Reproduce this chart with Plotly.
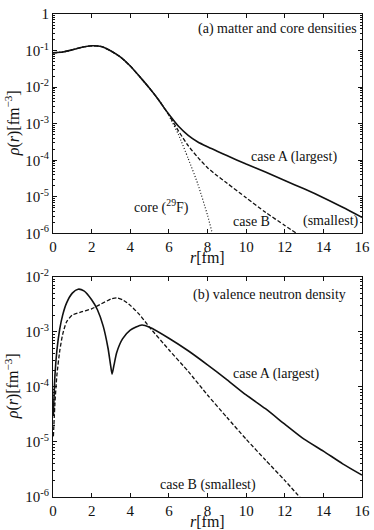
import plotly.graph_objects as go
from plotly.subplots import make_subplots

# ---------------------------------------------------------------
# (a) matter and core densities  [fm^-3]
# ---------------------------------------------------------------
# shared inner part of all three curves
r_common = [0, 0.5, 1, 1.5, 2, 2.5, 3, 3.5, 4, 4.5, 5, 5.5, 5.8]
rho_common = [0.0871, 0.0912, 0.105, 0.123, 0.135, 0.129, 0.0977, 0.0661,
              0.0380, 0.0191, 0.00933, 0.00427, 0.00251]

r_core_tail = [6, 6.5, 7, 7.5, 8, 8.3]
rho_core_tail = [1.66e-3, 5.0e-4, 1.12e-4, 2.24e-5, 3.16e-6, 7.9e-7]

r_caseB_tail = [6, 6.5, 7, 7.5, 8, 8.5, 9, 10, 11, 12, 12.85]
rho_caseB_tail = [1.74e-3, 6.3e-4, 2.51e-4, 1.20e-4, 6.3e-5, 3.8e-5, 2.4e-5,
                  9.5e-6, 3.8e-6, 1.66e-6, 8.3e-7]

r_caseA_tail = [6, 6.5, 7, 7.5, 8, 8.5, 9, 10, 11, 12, 13, 14, 15, 16]
rho_caseA_tail = [1.82e-3, 8.5e-4, 4.8e-4, 3.16e-4, 2.34e-4, 1.78e-4, 1.35e-4,
                  7.9e-5, 4.8e-5, 2.8e-5, 1.66e-5, 9.5e-6, 5.2e-6, 2.75e-6]

# ---------------------------------------------------------------
# (b) valence neutron density  [fm^-3]
# ---------------------------------------------------------------
r_valA = [0.02, 0.1, 0.2, 0.35, 0.5, 0.7, 1.0, 1.3, 1.6, 2.0, 2.3, 2.6, 2.85,
          2.98, 3.06, 3.16, 3.3, 3.6, 4.0, 4.6, 5.0, 6, 7, 8, 9, 10, 11, 12,
          13, 14, 15, 16]
rho_valA = [3.0e-5, 1.6e-4, 4.5e-4, 1.12e-3, 2.0e-3, 3.3e-3, 5.0e-3, 5.9e-3,
            5.5e-3, 3.8e-3, 2.5e-3, 1.26e-3, 5.0e-4, 2.5e-4, 1.7e-4, 2.5e-4,
            4.2e-4, 7.4e-4, 1.07e-3, 1.32e-3, 1.2e-3, 7.6e-4, 4.5e-4, 2.5e-4,
            1.35e-4, 7.1e-5, 4.0e-5, 2.1e-5, 1.12e-5, 6.8e-6, 4.0e-6, 2.5e-6]

r_valB = [0.02, 0.1, 0.2, 0.35, 0.5, 0.7, 1.0, 1.5, 2.0, 2.5, 3.0, 3.3, 3.6,
          4.0, 4.5, 5.0, 6, 7, 8, 9, 10, 11, 12, 12.85]
rho_valB = [1.26e-5, 5.0e-5, 1.6e-4, 4.5e-4, 8.9e-4, 1.5e-3, 2.0e-3, 2.3e-3,
            2.6e-3, 3.2e-3, 3.9e-3, 4.1e-3, 3.8e-3, 3.0e-3, 2.0e-3, 1.2e-3,
            4.7e-4, 1.9e-4, 7.1e-5, 2.8e-5, 1.12e-5, 4.7e-6, 2.0e-6, 9.3e-7]

x_ticks = [0, 2, 4, 6, 8, 10, 12, 14, 16]
y_top_exps = [0, -1, -2, -3, -4, -5, -6]
y_bot_exps = [-2, -3, -4, -5, -6]

FONT = "Liberation Serif"
INK = "#111"

fig = make_subplots(rows=2, cols=1)

line_solid = dict(color=INK, width=1.6, shape="spline", smoothing=0.6)
line_dash = dict(color=INK, width=1.3, dash="4px,2px", shape="spline", smoothing=0.6)
line_dot = dict(color=INK, width=1.2, dash="1px,2px", shape="spline", smoothing=0.6)

fig.add_trace(go.Scatter(x=r_common + r_core_tail, y=rho_common + rho_core_tail,
                         mode="lines", line=line_dot, showlegend=False), row=1, col=1)
fig.add_trace(go.Scatter(x=r_common + r_caseB_tail, y=rho_common + rho_caseB_tail,
                         mode="lines", line=line_dash, showlegend=False), row=1, col=1)
fig.add_trace(go.Scatter(x=r_common + r_caseA_tail, y=rho_common + rho_caseA_tail,
                         mode="lines", line=line_solid, showlegend=False), row=1, col=1)

fig.add_trace(go.Scatter(x=r_valB, y=rho_valB, mode="lines", line=line_dash,
                         showlegend=False), row=2, col=1)
fig.add_trace(go.Scatter(x=r_valA, y=rho_valA, mode="lines", line=line_solid,
                         showlegend=False), row=2, col=1)


def exp_label(e):
    return "1" if e == 0 else "10<sup>%d</sup>" % e


def minor_vals(exps):
    lo, hi = min(exps), max(exps)
    return [m * 10.0 ** e for e in range(lo, hi) for m in range(2, 10)]


axis_common = dict(showline=True, linecolor=INK, linewidth=1, mirror="ticks",
                   ticks="inside", ticklen=4, tickcolor=INK, showgrid=False,
                   zeroline=False, tickfont=dict(family=FONT, size=15, color=INK))

for i in (1, 2):
    fig.update_xaxes(range=[0, 16], tickvals=x_ticks, row=i, col=1, **axis_common)

fig.update_yaxes(type="log", range=[-6, 0],
                 tickvals=[10.0 ** e for e in y_top_exps],
                 ticktext=[exp_label(e) for e in y_top_exps],
                 minor=dict(ticks="inside", ticklen=2, tickcolor=INK,
                            tickmode="array", tickvals=minor_vals(y_top_exps)),
                 row=1, col=1, **axis_common)
fig.update_yaxes(type="log", range=[-6, -2],
                 tickvals=[10.0 ** e for e in y_bot_exps],
                 ticktext=[exp_label(e) for e in y_bot_exps],
                 minor=dict(ticks="inside", ticklen=2, tickcolor=INK,
                            tickmode="array", tickvals=minor_vals(y_bot_exps)),
                 row=2, col=1, **axis_common)

fig.update_layout(
    width=374, height=530,
    margin=dict(l=53, r=9, t=4, b=33),
    paper_bgcolor="white", plot_bgcolor="white",
    font=dict(family=FONT, size=14, color=INK),
    xaxis=dict(domain=[0, 1]), xaxis2=dict(domain=[0, 1]),
    yaxis=dict(domain=[0.5456, 1.0]), yaxis2=dict(domain=[0.0, 0.4564]),
)

txt = dict(showarrow=False, font=dict(family=FONT, size=14, color=INK))
big = dict(showarrow=False, font=dict(family=FONT, size=16, color=INK))
ylabel = "<i>ρ</i>(<i>r</i>)[fm<sup>−3</sup>]"
xlabel = "<i>r</i>[fm]"
annotations = [
    # panel titles
    dict(text="(a) matter and core densities", xref="x", yref="y",
         x=15.85, y=-0.42, xanchor="right", yanchor="middle", **txt),
    dict(text="(b) valence neutron density", xref="x2", yref="y2",
         x=15.3, y=-2.33, xanchor="right", yanchor="middle", **txt),
    # curve labels, panel (a)
    dict(text="case A (largest)", xref="x", yref="y", x=12.5, y=-3.92, **txt),
    dict(text="case B", xref="x", yref="y", x=10.3, y=-5.67, **txt),
    dict(text="(smallest)", xref="x", yref="y", x=14.4, y=-5.67, **txt),
    dict(text="core (<sup>29</sup>F)", xref="x", yref="y", x=5.6, y=-5.25, **txt),
    # curve labels, panel (b)
    dict(text="case A (largest)", xref="x2", yref="y2", x=11.55, y=-3.77, **txt),
    dict(text="case B (smallest)", xref="x2", yref="y2", x=8.0, y=-5.78, **txt),
    # axis titles
    dict(text=xlabel, xref="x domain", yref="y domain", x=0.5, y=0,
         xanchor="center", yanchor="middle", yshift=-24, **big),
    dict(text=xlabel, xref="x2 domain", yref="y2 domain", x=0.5, y=0,
         xanchor="center", yanchor="middle", yshift=-24, **big),
    dict(text=ylabel, xref="paper", yref="y domain", x=-0.131, y=0.5,
         xanchor="center", yanchor="middle", textangle=-90, **big),
    dict(text=ylabel, xref="paper", yref="y2 domain", x=-0.131, y=0.5,
         xanchor="center", yanchor="middle", textangle=-90, **big),
]
fig.update_layout(annotations=annotations)

# the page body keeps its default 8px margin otherwise
fig.write_html("out.html", config={"displayModeBar": False},
               post_script="document.body.style.margin='0px';")
